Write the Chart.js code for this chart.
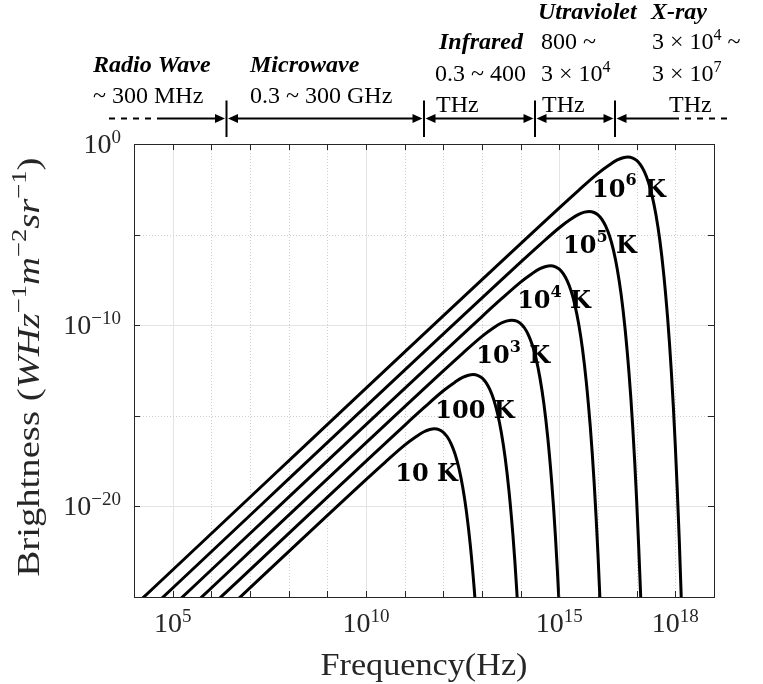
<!DOCTYPE html>
<html lang="en">
<head>
<meta charset="utf-8">
<title>Blackbody Spectrum</title>
<script src="https://cdn.jsdelivr.net/npm/chart.js@4.4.1/dist/chart.umd.min.js"></script>
<style>
body {
  margin: 0;
  background: #fff;
}
.chart-container {
  position: relative;
  width: 763px;
  height: 684px;
}
</style>
</head>
<body>
<div class="chart-container">
  <canvas id="planck-chart"></canvas>
</div>
<script>
/* Spectral brightness of a black body, frequency in Hz, brightness in W Hz^-1 m^-2 sr^-1 */
const freq10K = [1e4, 1e10, 3.16e10, 1e11, 2.0e11, 3.16e11, 4.47e11, 5.9e11, 7.94e11, 1e12, 1.26e12, 1.58e12, 2.0e12, 2.51e12, 3.16e12, 3.98e12, 5.0e12, 6.31e12, 7.08e12];
const bright10K = [3.1e-31, 3.0e-19, 2.8e-18, 2.4e-17, 7.2e-17, 1.32e-16, 1.74e-16, 1.9e-16, 1.66e-16, 1.23e-16, 7.0e-17, 2.95e-17, 8.1e-18, 1.38e-18, 1.2e-19, 4.7e-21, 6.8e-23, 2.6e-25, 9.3e-27];

const freq100K = [1e4, 1e11, 3.16e11, 1e12, 2.0e12, 3.16e12, 4.47e12, 5.9e12, 7.94e12, 1e13, 1.26e13, 1.58e13, 2.0e13, 2.51e13, 3.16e13, 3.98e13, 5.0e13, 6.31e13, 7.08e13, 7.94e13, 8.91e13];
const bright100K = [3.1e-30, 3.0e-16, 2.8e-15, 2.4e-14, 7.2e-14, 1.32e-13, 1.74e-13, 1.9e-13, 1.66e-13, 1.23e-13, 7.0e-14, 2.95e-14, 8.1e-15, 1.38e-15, 1.2e-16, 4.7e-18, 6.8e-20, 2.6e-22, 9.3e-24, 2.1e-25, 2.8e-27];

const freq1e3K = [1e4, 1e12, 3.16e12, 1e13, 2.0e13, 3.16e13, 4.47e13, 5.9e13, 7.94e13, 1e14, 1.26e14, 1.58e14, 2.0e14, 2.51e14, 3.16e14, 3.98e14, 5.0e14, 6.31e14, 7.08e14, 7.94e14, 8.91e14, 1e15];
const bright1e3K = [3.1e-29, 3.0e-13, 2.8e-12, 2.4e-11, 7.2e-11, 1.32e-10, 1.74e-10, 1.9e-10, 1.66e-10, 1.23e-10, 7.0e-11, 2.95e-11, 8.1e-12, 1.38e-12, 1.2e-13, 4.7e-15, 6.8e-17, 2.6e-19, 9.3e-21, 2.1e-22, 2.8e-24, 2.1e-26];

const freq1e4K = [1e4, 1e13, 3.16e13, 1e14, 2.0e14, 3.16e14, 4.47e14, 5.9e14, 7.94e14, 1e15, 1.26e15, 1.58e15, 2.0e15, 2.51e15, 3.16e15, 3.98e15, 5.0e15, 6.31e15, 7.08e15, 7.94e15, 8.91e15, 1e16, 1.12e16, 1.26e16];
const bright1e4K = [3.1e-28, 3.0e-10, 2.8e-9, 2.4e-8, 7.2e-8, 1.32e-7, 1.74e-7, 1.9e-7, 1.66e-7, 1.23e-7, 7.0e-8, 2.95e-8, 8.1e-9, 1.38e-9, 1.2e-10, 4.7e-12, 6.8e-14, 2.6e-16, 9.3e-18, 2.1e-19, 2.8e-21, 2.1e-23, 8.7e-26, 1.74e-28];

const freq1e5K = [1e4, 1e14, 3.16e14, 1e15, 2.0e15, 3.16e15, 4.47e15, 5.9e15, 7.94e15, 1e16, 1.26e16, 1.58e16, 2.0e16, 2.51e16, 3.16e16, 3.98e16, 5.0e16, 6.31e16, 7.08e16, 7.94e16, 8.91e16, 1e17, 1.12e17, 1.26e17, 1.41e17];
const bright1e5K = [3.1e-27, 3.0e-7, 2.8e-6, 2.4e-5, 7.2e-5, 1.32e-4, 1.74e-4, 1.9e-4, 1.66e-4, 1.23e-4, 7.0e-5, 2.95e-5, 8.1e-6, 1.38e-6, 1.2e-7, 4.7e-9, 6.8e-11, 2.6e-13, 9.3e-15, 2.1e-16, 2.8e-18, 2.1e-20, 8.7e-23, 1.74e-25, 1.55e-28];

const freq1e6K = [1e4, 1e15, 3.16e15, 1e16, 2.0e16, 3.16e16, 4.47e16, 5.9e16, 7.94e16, 1e17, 1.26e17, 1.58e17, 2.0e17, 2.51e17, 3.16e17, 3.98e17, 5.0e17, 6.31e17, 7.08e17, 7.94e17, 8.91e17, 1e18, 1.12e18, 1.26e18, 1.41e18, 1.58e18];
const bright1e6K = [3.1e-26, 3.0e-4, 2.8e-3, 2.4e-2, 7.2e-2, 1.32e-1, 1.74e-1, 1.9e-1, 1.66e-1, 1.23e-1, 7.0e-2, 2.95e-2, 8.1e-3, 1.38e-3, 1.2e-4, 4.7e-6, 6.8e-8, 2.6e-10, 9.3e-12, 2.1e-13, 2.8e-15, 2.1e-17, 8.7e-20, 1.74e-22, 1.55e-25, 5.6e-29];

/* Temperature captions and where they sit (data coordinates of the left end of the baseline) */
const tempLabels = ['10 K', '100 K', '10^3 K', '10^4 K', '10^5 K', '10^6 K'];
const tempLabelFreq = [5.7e10, 6.2e11, 7.1e12, 8.1e13, 1.25e15, 7.0e15];
const tempLabelBright = [2.4e-19, 7.3e-16, 7.8e-13, 8.6e-10, 9.5e-7, 1.2e-3];

/* Axis ticks */
const xTickValues = [1e5, 1e10, 1e15, 1e18];
const xTickLabels = ['10^5', '10^10', '10^15', '10^18'];
const xSolidGrid = [1e5, 1e10, 1e15];
const yTickValues = [1, 1e-10, 1e-20];
const yTickLabels = ['10^0', '10^\u221210', '10^\u221220'];

const SERIF = '"Liberation Serif", "Times New Roman", serif';
const TEXT = '#262626';

/* split "10^5 K" style strings into normal / raised runs */
function toRuns(str, font, supFont, rise) {
  const parts = str.split(/\^(\S+)/);
  return parts.map((t, i) => ({ text: t, font: i % 2 ? supFont : font, rise: i % 2 ? rise : 0 }));
}

function measureRuns(ctx, runs) {
  let w = 0;
  runs.forEach(r => {
    ctx.font = r.font;
    r.w = ctx.measureText(r.text).width;
    w += r.w;
  });
  return w;
}

function drawRuns(ctx, runs, x, y, align) {
  const w = measureRuns(ctx, runs);
  let cx = align === 'center' ? x - w / 2 : align === 'right' ? x - w : x;
  ctx.textAlign = 'left';
  ctx.textBaseline = 'alphabetic';
  runs.forEach(r => {
    ctx.font = r.font;
    ctx.fillText(r.text, cx, y - r.rise);
    cx += r.w;
  });
  return w;
}

/* grid, box, ticks, tick labels and axis titles */
const axesFrame = {
  id: 'axesFrame',
  beforeDatasetsDraw(chart) {
    const { ctx, chartArea: a, scales: { x, y } } = chart;
    ctx.save();
    ctx.lineWidth = 1;
    // one vertical line per decade, solid every fifth decade
    for (let e = 5; e <= 18; e++) {
      const v = Math.pow(10, e);
      const px = Math.round(x.getPixelForValue(v)) + 0.5;
      const major = xSolidGrid.includes(v);
      ctx.strokeStyle = major ? '#e4e4e4' : '#cdcdcd';
      ctx.setLineDash(major ? [] : [1, 2]);
      ctx.beginPath();
      ctx.moveTo(px, a.top);
      ctx.lineTo(px, a.bottom);
      ctx.stroke();
    }
    for (let e = -5; e >= -20; e -= 5) {
      const v = Math.pow(10, e);
      const py = Math.round(y.getPixelForValue(v)) + 0.5;
      const major = e % 10 === 0;
      ctx.strokeStyle = major ? '#e4e4e4' : '#cdcdcd';
      ctx.setLineDash(major ? [] : [1, 2]);
      ctx.beginPath();
      ctx.moveTo(a.left, py);
      ctx.lineTo(a.right, py);
      ctx.stroke();
    }
    ctx.restore();
  },
  afterDatasetsDraw(chart) {
    const { ctx, chartArea: a, scales: { x, y } } = chart;
    ctx.save();
    ctx.strokeStyle = TEXT;
    ctx.lineWidth = 1;
    ctx.strokeRect(Math.round(a.left) + 0.5, Math.round(a.top) + 0.5,
      Math.round(a.right - a.left), Math.round(a.bottom - a.top));

    // inward ticks on all four sides
    const len = 6;
    ctx.beginPath();
    for (let e = 5; e <= 18; e++) {
      const px = Math.round(x.getPixelForValue(Math.pow(10, e))) + 0.5;
      ctx.moveTo(px, a.bottom); ctx.lineTo(px, a.bottom - len);
      ctx.moveTo(px, a.top); ctx.lineTo(px, a.top + len);
    }
    for (let e = -5; e >= -20; e -= 5) {
      const py = Math.round(y.getPixelForValue(Math.pow(10, e))) + 0.5;
      ctx.moveTo(a.left, py); ctx.lineTo(a.left + len, py);
      ctx.moveTo(a.right, py); ctx.lineTo(a.right - len, py);
    }
    ctx.stroke();

    // tick labels
    ctx.fillStyle = TEXT;
    const tickFont = '28px ' + SERIF;
    const tickSup = '19px ' + SERIF;
    xTickValues.forEach((v, i) => {
      drawRuns(ctx, toRuns(xTickLabels[i], tickFont, tickSup, 10), x.getPixelForValue(v), a.bottom + 35, 'center');
    });
    yTickValues.forEach((v, i) => {
      drawRuns(ctx, toRuns(yTickLabels[i], tickFont, tickSup, 10), a.left - 13, y.getPixelForValue(v) + 9, 'right');
    });

    // axis titles, widened a little to the look of the TeX fonts
    const titleFont = '32px ' + SERIF;
    const titleItalic = 'italic 32px ' + SERIF;
    const titleSup = '22px ' + SERIF;
    const xTitle = [{ text: 'Frequency(Hz)', font: titleFont, rise: 0 }];
    let w = measureRuns(ctx, xTitle);
    ctx.save();
    ctx.translate((a.left + a.right) / 2, a.bottom + 78);
    ctx.scale(207 / w, 1);
    drawRuns(ctx, xTitle, 0, 0, 'center');
    ctx.restore();

    const yTitle = [
      { text: 'Brightness (', font: titleFont, rise: 0 },
      { text: 'W', font: titleItalic, rise: 0 },
      { text: 'Hz', font: titleItalic, rise: 0 },
      { text: '\u22121', font: titleSup, rise: 13 },
      { text: 'm', font: titleItalic, rise: 0 },
      { text: '\u22122', font: titleSup, rise: 13 },
      { text: 'sr', font: titleItalic, rise: 0 },
      { text: '\u22121', font: titleSup, rise: 13 },
      { text: ')', font: titleFont, rise: 0 }
    ];
    w = measureRuns(ctx, yTitle);
    ctx.save();
    ctx.translate(39, 367);
    ctx.rotate(-Math.PI / 2);
    ctx.scale(Math.max(1, 419 / w), 1);
    drawRuns(ctx, yTitle, 0, 0, 'center');
    ctx.restore();

    // temperature captions
    ctx.fillStyle = '#000';
    const capFont = 'bold 24px "DejaVu Serif", serif';
    const capSup = 'bold 16px "DejaVu Serif", serif';
    tempLabels.forEach((t, i) => {
      drawRuns(ctx, toRuns(t, capFont, capSup, 11.5),
        x.getPixelForValue(tempLabelFreq[i]), y.getPixelForValue(tempLabelBright[i]), 'left');
    });
    ctx.restore();
  }
};

/* electromagnetic band strip above the plot */
const bandTitles = [
  { text: 'Radio Wave', x: 93, y: 71.5 },
  { text: 'Microwave', x: 250, y: 71.5 },
  { text: 'Infrared', x: 439, y: 49 },
  { text: 'Utraviolet', x: 538, y: 18.5 },
  { text: 'X-ray', x: 651, y: 18.5 }
];
const bandRanges = [
  { text: '~ 300 MHz', x: 93, y: 102.5 },
  { text: '0.3 ~ 300 GHz', x: 250, y: 102.5 },
  { text: '0.3 ~ 400', x: 435, y: 81 },
  { text: 'THz', x: 436, y: 111.5 },
  { text: '800 ~', x: 541, y: 49 },
  { text: '3 \u00d7 10^4', x: 541, y: 81 },
  { text: 'THz', x: 542, y: 111.5 },
  { text: '3 \u00d7 10^4 ~', x: 652, y: 49 },
  { text: '3 \u00d7 10^7', x: 652, y: 81 },
  { text: 'THz', x: 669, y: 111.5 }
];
const bandEdges = [226.5, 424, 535, 615];
const stripY = 118.5;

function arrowHead(ctx, tipX, yy, dir) {
  ctx.beginPath();
  ctx.moveTo(tipX, yy);
  ctx.lineTo(tipX - dir * 10, yy - 4.5);
  ctx.lineTo(tipX - dir * 10, yy + 4.5);
  ctx.closePath();
  ctx.fill();
}

const bandStrip = {
  id: 'bandStrip',
  afterDraw(chart) {
    const ctx = chart.ctx;
    ctx.save();
    ctx.fillStyle = '#000';
    ctx.strokeStyle = '#000';
    const titleFont = 'italic bold 24px ' + SERIF;
    const font = '24px ' + SERIF;
    const sup = '16px ' + SERIF;
    bandTitles.forEach(b => drawRuns(ctx, [{ text: b.text, font: titleFont, rise: 0 }], b.x, b.y, 'left'));
    bandRanges.forEach(b => drawRuns(ctx, toRuns(b.text, font, sup, 9), b.x, b.y, 'left'));

    ctx.lineWidth = 2;
    // open ends
    ctx.setLineDash([6, 6]);
    ctx.beginPath();
    ctx.moveTo(109, stripY); ctx.lineTo(160, stripY);
    ctx.moveTo(673, stripY); ctx.lineTo(733, stripY);
    ctx.stroke();
    ctx.setLineDash([]);
    ctx.beginPath();
    ctx.moveTo(160, stripY); ctx.lineTo(bandEdges[0] - 8, stripY);
    for (let i = 0; i < bandEdges.length - 1; i++) {
      ctx.moveTo(bandEdges[i] + 8, stripY);
      ctx.lineTo(bandEdges[i + 1] - 8, stripY);
    }
    ctx.moveTo(bandEdges[bandEdges.length - 1] + 8, stripY);
    ctx.lineTo(673, stripY);
    ctx.stroke();

    bandEdges.forEach((e, i) => {
      ctx.beginPath();
      ctx.moveTo(e, 100.5); ctx.lineTo(e, 137);
      ctx.stroke();
      arrowHead(ctx, e - 1.5, stripY, 1);
      arrowHead(ctx, e + 1.5, stripY, -1);
    });
    ctx.restore();
  }
};

const curves = [
  [freq10K, bright10K],
  [freq100K, bright100K],
  [freq1e3K, bright1e3K],
  [freq1e4K, bright1e4K],
  [freq1e5K, bright1e5K],
  [freq1e6K, bright1e6K]
];

const datasets = curves.map(([f, b], k) => ({
  label: tempLabels[k],
  data: f.map((v, i) => ({ x: v, y: b[i] })),
  showLine: true,
  borderColor: '#000',
  borderWidth: 3,
  pointRadius: 0,
  cubicInterpolationMode: 'monotone',
  clip: 0
}));

new Chart(document.getElementById('planck-chart'), {
  type: 'scatter',
  data: { datasets: datasets },
  options: {
    responsive: true,
    maintainAspectRatio: false,
    animation: false,
    events: [],
    layout: { padding: { left: 134, top: 144, right: 49, bottom: 87 } },
    plugins: {
      legend: { display: false },
      tooltip: { enabled: false }
    },
    scales: {
      x: { type: 'logarithmic', min: 1e4, max: 1e19, display: false },
      y: { type: 'logarithmic', min: 1e-25, max: 1, display: false }
    }
  },
  plugins: [axesFrame, bandStrip]
});
</script>
</body>
</html>
